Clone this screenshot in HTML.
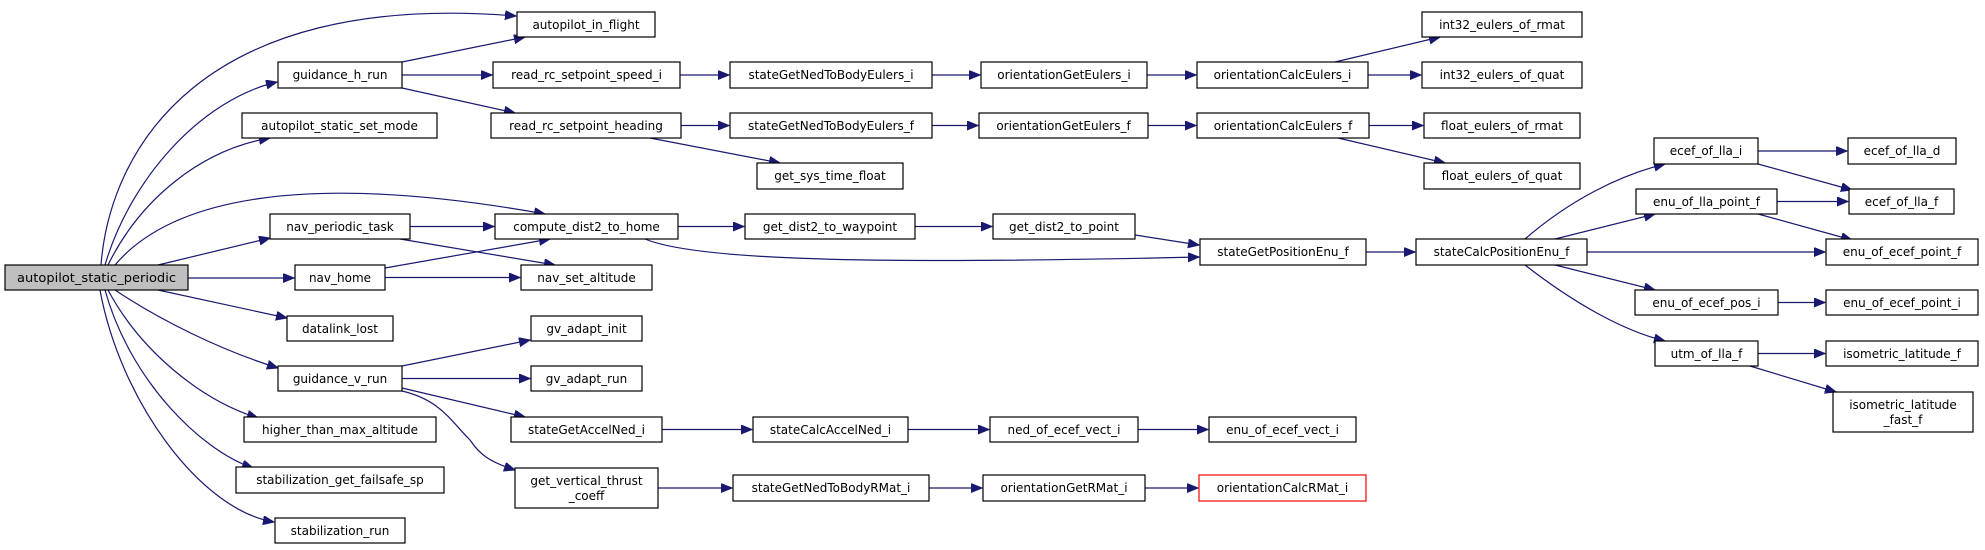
<!DOCTYPE html>
<html><head><meta charset="utf-8"><style>
html,body{margin:0;padding:0;background:#fff;}
svg{display:block;}
text{font-family:"DejaVu Sans","Liberation Sans",sans-serif;font-size:12px;fill:#000;text-anchor:middle;}
rect{fill:#fff;stroke:#000;stroke-width:1.2;}
path{fill:none;stroke:#191970;stroke-width:1.2;}
</style></head><body>
<svg width="1985" height="550" viewBox="0 0 1985 550" xmlns="http://www.w3.org/2000/svg">
<defs><marker id="a" markerUnits="userSpaceOnUse" markerWidth="12" markerHeight="10" refX="11" refY="4.5" orient="auto"><path d="M0,0 L11,4.5 L0,9 Z" style="fill:#191970;stroke:#191970;stroke-width:1"/></marker></defs>
<g marker-end="url(#a)">
<path d="M101,265 C110,150 200,-10 516,16"/>
<path d="M105,265 C130,180 200,100 277,82"/>
<path d="M108,265 C140,200 200,150 270,138"/>
<path d="M115,265 C170,200 300,170 545,214"/>
<path d="M158,265 L270,238"/>
<path d="M188,278 L294,278"/>
<path d="M158,290 L287,318"/>
<path d="M115,290 C160,320 220,350 278,368"/>
<path d="M108,290 C140,350 200,400 258,418"/>
<path d="M105,290 C130,380 200,450 253,468"/>
<path d="M100,290 C120,400 200,510 274,522"/>
<path d="M402,62 L525,37"/>
<path d="M402,75 L492,75"/>
<path d="M402,88 L515,113"/>
<path d="M680,75 L729,75"/>
<path d="M932,75 L980,75"/>
<path d="M1147,75 L1196,75"/>
<path d="M1335,62 L1440,37"/>
<path d="M1368,75 L1421,75"/>
<path d="M681,125.5 L729,125.5"/>
<path d="M650,138 L780,163"/>
<path d="M932,125.5 L978,125.5"/>
<path d="M1148,125.5 L1196,125.5"/>
<path d="M1369,125.5 L1423,125.5"/>
<path d="M1338,138 L1445,163"/>
<path d="M410,226.5 L494,226.5"/>
<path d="M400,239 L555,265"/>
<path d="M385,268 L550,239"/>
<path d="M385,277.5 L520,277.5"/>
<path d="M678,226.5 L744,226.5"/>
<path d="M645,239 C700,262 900,264 1199,257"/>
<path d="M915,226.5 L992,226.5"/>
<path d="M1135,235 L1199,245"/>
<path d="M1366,252 L1415,252"/>
<path d="M1525,239 C1570,200 1620,175 1665,164"/>
<path d="M1555,239 L1655,214"/>
<path d="M1587,252 L1825,252"/>
<path d="M1555,265 L1655,290"/>
<path d="M1525,265 C1570,300 1620,330 1665,341"/>
<path d="M1758,151 L1847,151"/>
<path d="M1758,164 L1852,190"/>
<path d="M1777,201.5 L1848,201.5"/>
<path d="M1758,214 L1852,240"/>
<path d="M1778,302.5 L1825,302.5"/>
<path d="M1758,353.5 L1825,353.5"/>
<path d="M1750,366 L1836,392"/>
<path d="M402,366 L530,340"/>
<path d="M402,378.5 L530,378.5"/>
<path d="M402,388 L525,417"/>
<path d="M402,391 C440,400 450,420 470,440 C480,455 490,462 515,470"/>
<path d="M662,429.5 L752,429.5"/>
<path d="M908,429.5 L989,429.5"/>
<path d="M1138,429.5 L1208,429.5"/>
<path d="M658,488 L732,488"/>
<path d="M929,488 L982,488"/>
<path d="M1145,488 L1198,488"/>
</g>
<rect x="5" y="265" width="183" height="25" style="fill:#bfbfbf"/><text x="96.5" y="282" textLength="159" lengthAdjust="spacingAndGlyphs">autopilot_static_periodic</text>
<rect x="517" y="12" width="138" height="25"/><text x="586" y="29">autopilot_in_flight</text>
<rect x="278" y="62" width="124" height="26"/><text x="340" y="79">guidance_h_run</text>
<rect x="242" y="113" width="195" height="25"/><text x="339.5" y="130">autopilot_static_set_mode</text>
<rect x="270" y="214" width="140" height="25"/><text x="340" y="231">nav_periodic_task</text>
<rect x="495" y="214" width="183" height="25"/><text x="586.5" y="231">compute_dist2_to_home</text>
<rect x="493" y="62" width="187" height="26"/><text x="586.5" y="79">read_rc_setpoint_speed_i</text>
<rect x="491" y="113" width="190" height="25"/><text x="586" y="130">read_rc_setpoint_heading</text>
<rect x="295" y="265" width="90" height="25"/><text x="340" y="282">nav_home</text>
<rect x="521" y="265" width="131" height="25"/><text x="586.5" y="282">nav_set_altitude</text>
<rect x="287" y="316" width="106" height="25"/><text x="340" y="333">datalink_lost</text>
<rect x="278" y="366" width="124" height="25"/><text x="340" y="383">guidance_v_run</text>
<rect x="244" y="417" width="192" height="25"/><text x="340" y="434">higher_than_max_altitude</text>
<rect x="236" y="467" width="208" height="26"/><text x="340" y="484">stabilization_get_failsafe_sp</text>
<rect x="275" y="518" width="130" height="25"/><text x="340" y="535">stabilization_run</text>
<rect x="531" y="316" width="111" height="25"/><text x="586.5" y="333">gv_adapt_init</text>
<rect x="531" y="366" width="111" height="25"/><text x="586.5" y="383">gv_adapt_run</text>
<rect x="511" y="417" width="151" height="25"/><text x="586.5" y="434">stateGetAccelNed_i</text>
<rect x="515" y="468" width="143" height="40"/><text x="586.5" y="485">get_vertical_thrust</text><text x="586.5" y="500">_coeff</text>
<rect x="730" y="62" width="202" height="26"/><text x="831" y="79">stateGetNedToBodyEulers_i</text>
<rect x="981" y="62" width="166" height="26"/><text x="1064" y="79">orientationGetEulers_i</text>
<rect x="730" y="113" width="202" height="25"/><text x="831" y="130">stateGetNedToBodyEulers_f</text>
<rect x="979" y="113" width="169" height="25"/><text x="1063.5" y="130">orientationGetEulers_f</text>
<rect x="757" y="163" width="146" height="26"/><text x="830" y="180">get_sys_time_float</text>
<rect x="745" y="214" width="170" height="25"/><text x="830" y="231">get_dist2_to_waypoint</text>
<rect x="993" y="214" width="142" height="25"/><text x="1064" y="231">get_dist2_to_point</text>
<rect x="753" y="417" width="155" height="25"/><text x="830.5" y="434">stateCalcAccelNed_i</text>
<rect x="990" y="417" width="148" height="25"/><text x="1064" y="434">ned_of_ecef_vect_i</text>
<rect x="1209" y="417" width="147" height="25"/><text x="1282.5" y="434">enu_of_ecef_vect_i</text>
<rect x="733" y="475" width="196" height="26"/><text x="831" y="492">stateGetNedToBodyRMat_i</text>
<rect x="983" y="475" width="162" height="26"/><text x="1064" y="492">orientationGetRMat_i</text>
<rect x="1199" y="475" width="167" height="26" style="stroke:#ff0000"/><text x="1282.5" y="492">orientationCalcRMat_i</text>
<rect x="1197" y="62" width="171" height="26"/><text x="1282.5" y="79">orientationCalcEulers_i</text>
<rect x="1422" y="12" width="160" height="25"/><text x="1502" y="29">int32_eulers_of_rmat</text>
<rect x="1422" y="62" width="160" height="26"/><text x="1502" y="79">int32_eulers_of_quat</text>
<rect x="1197" y="113" width="172" height="25"/><text x="1283" y="130">orientationCalcEulers_f</text>
<rect x="1424" y="113" width="156" height="25"/><text x="1502" y="130">float_eulers_of_rmat</text>
<rect x="1424" y="163" width="156" height="26"/><text x="1502" y="180">float_eulers_of_quat</text>
<rect x="1200" y="239" width="166" height="26"/><text x="1283" y="256">stateGetPositionEnu_f</text>
<rect x="1416" y="239" width="171" height="26"/><text x="1501.5" y="256">stateCalcPositionEnu_f</text>
<rect x="1654" y="138" width="104" height="26"/><text x="1706" y="155">ecef_of_lla_i</text>
<rect x="1848" y="138" width="108" height="26"/><text x="1902" y="155">ecef_of_lla_d</text>
<rect x="1636" y="189" width="141" height="25"/><text x="1706.5" y="206">enu_of_lla_point_f</text>
<rect x="1849" y="189" width="105" height="25"/><text x="1901.5" y="206">ecef_of_lla_f</text>
<rect x="1826" y="239" width="152" height="26"/><text x="1902" y="256">enu_of_ecef_point_f</text>
<rect x="1635" y="290" width="143" height="25"/><text x="1706.5" y="307">enu_of_ecef_pos_i</text>
<rect x="1826" y="290" width="152" height="25"/><text x="1902" y="307">enu_of_ecef_point_i</text>
<rect x="1655" y="341" width="103" height="25"/><text x="1706.5" y="358">utm_of_lla_f</text>
<rect x="1826" y="341" width="152" height="25"/><text x="1902" y="358">isometric_latitude_f</text>
<rect x="1833" y="392" width="140" height="40"/><text x="1903" y="409">isometric_latitude</text><text x="1903" y="424">_fast_f</text>
</svg>
</body></html>
